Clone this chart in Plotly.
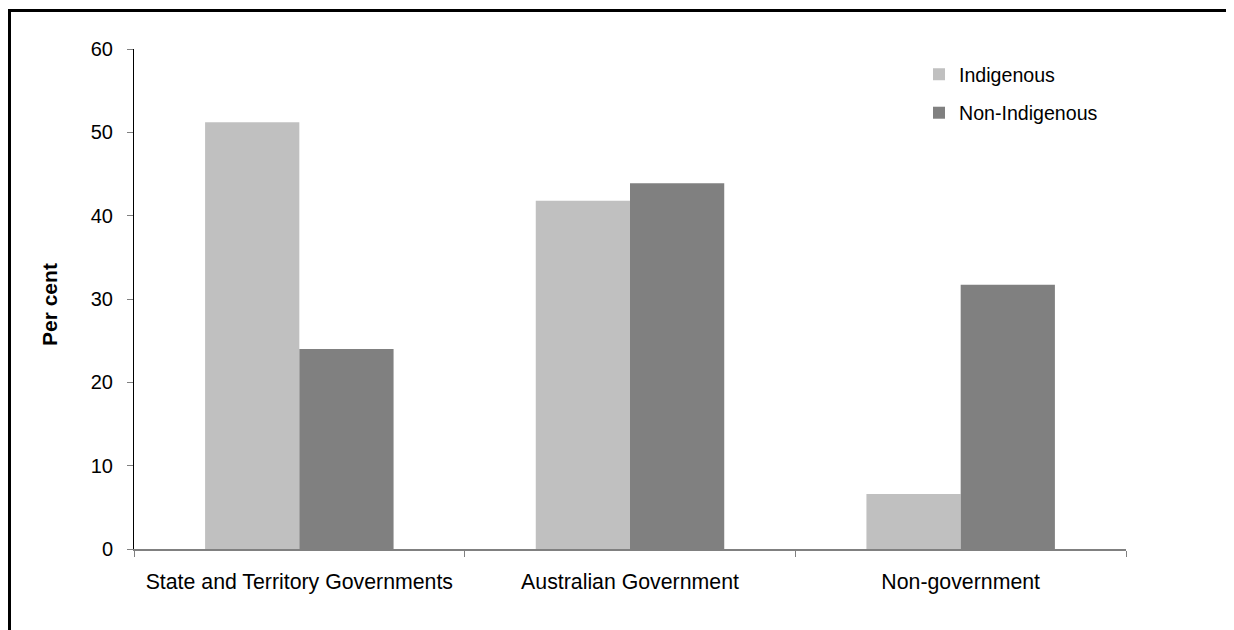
import plotly.graph_objects as go

categories = ["State and Territory Governments", "Australian Government", "Non-government"]
indigenous = [51.2, 41.8, 6.6]
non_indigenous = [24.0, 43.9, 31.7]
y_ticks = [0, 10, 20, 30, 40, 50, 60]

# page has an 8px body margin; work in page pixels and convert
OFF = 8
W, H = 1234 - OFF, 630 - OFF
L, R, T, B = 134 - OFF, 108, 49 - OFF, 81
pw, ph = W - L - R, H - T - B

def px(x):
    return (x - OFF - L) / pw

def py(y):
    return (H - B - (y - OFF)) / ph

FONT = "Liberation Sans, Arial, sans-serif"

fig = go.Figure()
fig.add_trace(go.Bar(name="Indigenous", x=categories, y=indigenous,
                     marker=dict(color="#C0C0C0", line=dict(width=0)),
                     legendgroup="a"))
fig.add_trace(go.Bar(name="Non-Indigenous", x=categories, y=non_indigenous,
                     marker=dict(color="#808080", line=dict(width=0)),
                     legendgroup="b"))

fig.update_layout(
    width=W, height=H,
    margin=dict(l=L, r=R, t=T, b=B, pad=0),
    paper_bgcolor="white", plot_bgcolor="white",
    barmode="group", bargap=0.43, bargroupgap=0,
    font=dict(family=FONT, size=20, color="black"),
    showlegend=True,
    legend=dict(x=px(919), y=py(55), xanchor="left", yanchor="top",
                font=dict(family=FONT, size=19.6, color="black"),
                bgcolor="rgba(0,0,0,0)", traceorder="grouped",
                tracegroupgap=10, itemwidth=30),
    xaxis=dict(showline=True, linecolor="#808080", linewidth=2,
               ticks="outside", ticklen=6, tickcolor="#808080", tickwidth=1,
               tickson="boundaries", showgrid=False, zeroline=False,
               ticklabelstandoff=12,
               tickfont=dict(family=FONT, size=21.3, color="black")),
    yaxis=dict(range=[0, 60], tickvals=y_ticks, showline=True, linecolor="black",
               linewidth=1, ticks="outside", ticklen=6, tickcolor="#808080",
               tickwidth=1, showgrid=False, zeroline=False,
               ticklabelstandoff=10,
               tickfont=dict(family=FONT, size=20, color="black")),
    annotations=[dict(text="<b>Per cent</b>", x=px(49), y=py(305), xref="paper", yref="paper",
                      textangle=-90, showarrow=False, xanchor="center", yanchor="middle",
                      font=dict(family=FONT, size=21, color="black"))],
    shapes=[dict(type="rect", xref="paper", yref="paper",
                 x0=px(9.5), x1=px(1240), y0=py(640), y1=py(10.5),
                 line=dict(color="black", width=3), layer="above")],
)

fig.write_html("out.html")
